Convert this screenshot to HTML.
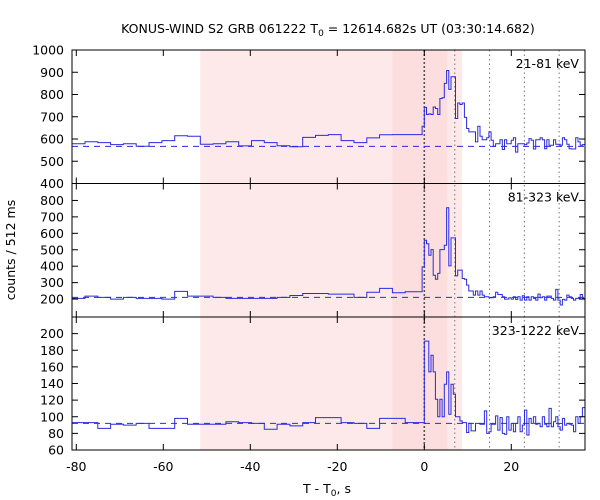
<!DOCTYPE html>
<html><head><meta charset="utf-8">
<style>
body{margin:0;background:#fff;}
svg{display:block;font-family:"DejaVu Sans","Liberation Sans",sans-serif;font-size:12.5px;}
</style></head>
<body>
<svg id="chart" width="600" height="500" viewBox="0 0 600 500">
<text x="328" y="33" text-anchor="middle">KONUS-WIND S2 GRB 061222 T<tspan font-size="9" dy="3">0</tspan><tspan dy="-3"> = 12614.682s UT (03:30:14.682)</tspan></text>
<text x="327" y="493" text-anchor="middle">T - T<tspan font-size="9" dy="3">0</tspan><tspan dy="-3">, s</tspan></text>
<text transform="translate(15,250) rotate(-90)" text-anchor="middle">counts / 512 ms</text>
<g id="plot"></g>
</svg>
<script>
// ---- data ----
const coarseStart = -80.94, coarseWidth = 2.944;
const fineStart = -1.536, fineWidth = 0.512;
const bandLabels = ["21-81 keV","81-323 keV","323-1222 keV"];
const coarseTop = [579,588,584,575,579,567,584,593,615,612,576,579,588,569,593,584,570,565,607,616,620,593,584,605,619,620,620];
const fineTop = [620,620,657,742,710,713,710,744,737,710,782,785,850,908,823,880,880,692,762,755,762,697,647,632,632,632,587,657,612,597,597,606,632,594,567,579,579,597,553,597,579,579,594,606,541,579,579,579,575,582,602,594,555,597,597,606,597,556,597,572,572,597,576,576,572,606,597,576,556,555,555,606,587,572,575];
const coarseMid = [204,218,210,200,210,204,204,200,247,218,218,210,204,204,204,204,210,222,234,234,230,230,210,242,265,238,245];
const fineMid = [245,245,396,558,537,467,501,345,321,356,501,501,527,756,402,572,572,341,376,376,325,321,285,249,249,224,249,224,249,224,214,214,208,208,214,241,228,228,214,200,200,208,200,214,198,214,194,220,194,214,194,214,204,194,230,208,214,194,218,218,204,194,259,194,164,198,194,224,214,204,194,204,204,228,204];
const coarseBot = [93,93,86,91,90,92,86,86,98,91,91,91,94,93,92,85,91,89,93,99,99,93,92,86,98,98,93];
const fineBot = [93,93,93,191,191,154,174,154,121,100,121,100,139,154,103,139,127,100,100,95,93,93,81,92,83,83,92,92,91,91,107,80,82,91,91,101,84,99,80,79,100,84,92,82,92,100,82,90,108,78,98,92,100,91,92,88,100,91,88,110,88,94,100,88,84,98,90,92,91,90,82,100,92,100,111];
const baselines = [567,210,92];
const yMins = [400,91,60], yMaxs = [1000,903,220];
const yTicksTop = [400,500,600,700,800,900,1000];
const yTicksMid = [200,300,400,500,600,700,800];
const yTicksBot = [60,80,100,120,140,160,180,200];
const xTicks = [-80,-60,-40,-20,0,20];
const lightSpan = [-51.5, 8.7];
const darkSpan = [-7.3, 5.3];
const markerTimes = [0,7.0,15.0,23.0,31.0];

// ---- layout ----
const L=72, R=585, panelTops=[50,183.5,317], panelBots=[183.5,317,450];
const xs = t => 424.3 + t*4.35;
const tMax = (R-424.3)/4.35;
const NS="http://www.w3.org/2000/svg";
const plot=document.getElementById('plot');
function mk(tag, attrs){const e=document.createElementNS(NS,tag);for(const k in attrs)e.setAttribute(k,attrs[k]);plot.appendChild(e);return e;}

let s1=mk('rect',{x:xs(lightSpan[0]),y:50,width:xs(lightSpan[1])-xs(lightSpan[0]),height:400,fill:'#fde9e9'});


let s2=mk('rect',{x:xs(darkSpan[0]),y:50,width:xs(darkSpan[1])-xs(darkSpan[0]),height:400,fill:'#fddede'});



markerTimes.forEach((t,i)=>{
  const l=mk('line',{x1:xs(t),x2:xs(t),y1:50,y2:450,stroke:i===0?'#555':'#777','stroke-width':i===0?1.6:1,'stroke-dasharray':i===0?'2,2':'1.5,3'});
  
  
});

const panels=[[coarseTop,fineTop,yTicksTop],[coarseMid,fineMid,yTicksMid],[coarseBot,fineBot,yTicksBot]];
panels.forEach((p,pi)=>{
  const [coarse,fine,ticks]=p;
  const top=panelTops[pi], bot=panelBots[pi];
  const ys=v=> bot-(v-yMins[pi])/(yMaxs[pi]-yMins[pi])*(bot-top);
  const bl=mk('line',{x1:L,x2:R,y1:ys(baselines[pi]),y2:ys(baselines[pi]),stroke:'#2a2ae0','stroke-width':1,'stroke-dasharray':'6,5'});
  
  
  let edges=[],vals=[];
  coarse.forEach((v,i)=>{edges.push(coarseStart+i*coarseWidth);vals.push(v);});
  fine.forEach((v,i)=>{edges.push(fineStart+i*fineWidth);vals.push(v);});
  let d='';
  vals.forEach((v,i)=>{
    let t0=Math.max(edges[i],-81), t1=i+1<edges.length?edges[i+1]:tMax;
    if(i===coarse.length-1) t1=fineStart;
    t1=Math.min(t1,tMax);
    const y=ys(v).toFixed(1);
    d+=(i===0?'M':'L')+xs(t0).toFixed(1)+','+y+'L'+xs(t1).toFixed(1)+','+y;
  });
  const h=mk('path',{d:d,fill:'none',stroke:'#2a2ae0','stroke-width':1});
  
  
  const fr=mk('rect',{x:L,y:top,width:R-L,height:bot-top,fill:'none',stroke:'#000','stroke-width':1});
  
  
  ticks.forEach(v=>{
    const y=ys(v);
    mk('line',{x1:L,x2:L+6,y1:y,y2:y,stroke:'#000'});
    mk('line',{x1:R-6,x2:R,y1:y,y2:y,stroke:'#000'});
    const tx=mk('text',{x:L-8,y:y+4.5,'text-anchor':'end'});
    tx.textContent=v;
    
    
  });
  xTicks.forEach(t=>{
    mk('line',{x1:xs(t),x2:xs(t),y1:top,y2:top+6,stroke:'#000'});
    mk('line',{x1:xs(t),x2:xs(t),y1:bot-6,y2:bot,stroke:'#000'});
  });
  const lb=mk('text',{x:R-6,y:top+18,'text-anchor':'end'});
  lb.textContent=bandLabels[pi];
  
  
});
xTicks.forEach(t=>{
  const tx=mk('text',{x:xs(t),y:471,'text-anchor':'middle'});
  tx.textContent=t;
  
  
});
</script>
</body></html>
